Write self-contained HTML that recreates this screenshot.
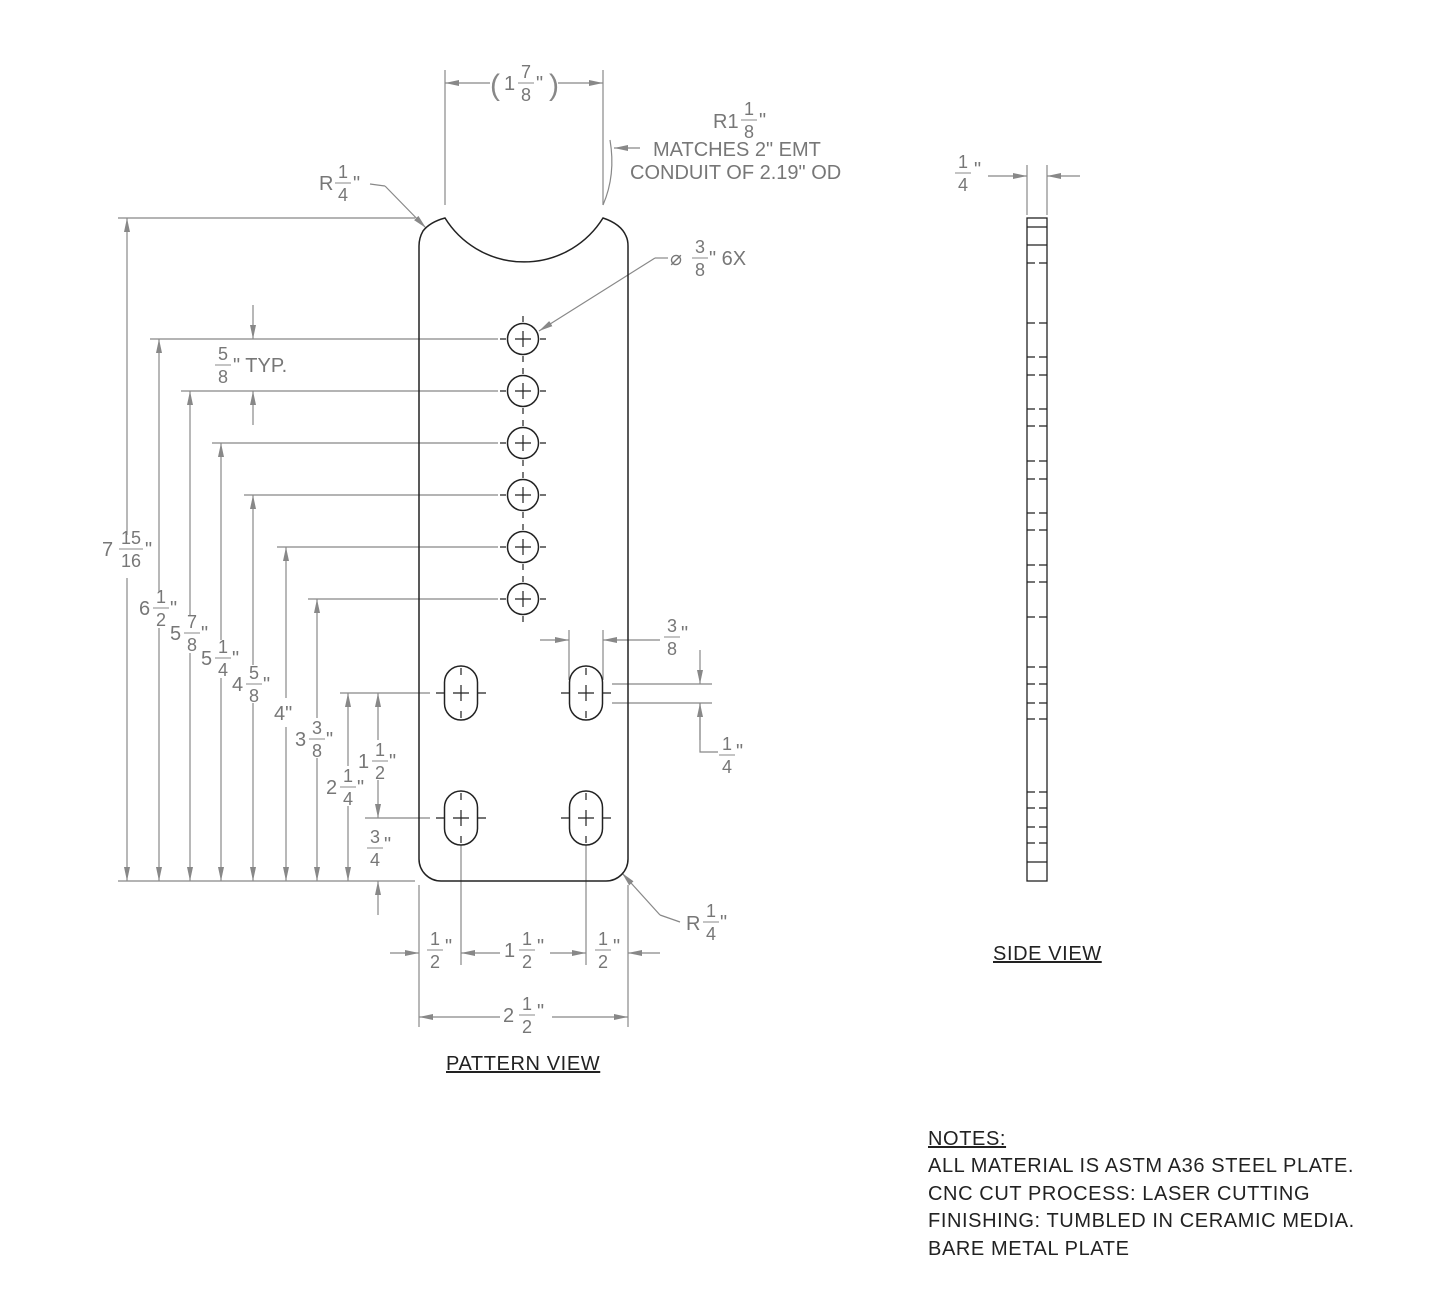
<!DOCTYPE html>
<html><head><meta charset="utf-8"><style>
html,body{margin:0;padding:0;background:#fff}
svg{display:block}
text{font-family:"Liberation Sans",Arial,sans-serif;fill:#777;font-size:20px}
.f{font-size:18px;text-anchor:middle}
.n{fill:#222;font-size:20px;letter-spacing:0.6px}
</style></head><body>
<svg width="1445" height="1308" viewBox="0 0 1445 1308" xmlns="http://www.w3.org/2000/svg">
<defs>
<marker id="a" markerWidth="14" markerHeight="8" refX="14" refY="4" orient="auto" markerUnits="userSpaceOnUse">
<path d="M0,1 L14,4 L0,7 Z" fill="#888"/></marker>
</defs>
<g stroke="#888" stroke-width="1.2" fill="none">
<line x1="445" y1="70" x2="445" y2="205"/><line x1="603" y1="70" x2="603" y2="205"/>
<line x1="490" y1="83" x2="445" y2="83" marker-end="url(#a)"/>
<line x1="558" y1="83" x2="603" y2="83" marker-end="url(#a)"/>
<path d="M603,205 Q616,175 610,140"/>
<line x1="640" y1="148" x2="614" y2="148" marker-end="url(#a)"/>
<path d="M370,184 L385,186" /><line x1="385" y1="186" x2="426" y2="228" marker-end="url(#a)"/>
<line x1="668" y1="258" x2="655" y2="258"/><line x1="655" y1="258" x2="539" y2="331" marker-end="url(#a)"/>
<line x1="118" y1="218" x2="415" y2="218"/>
<line x1="118" y1="881" x2="415" y2="881"/>
<line x1="150" y1="339" x2="498" y2="339"/>
<line x1="181" y1="391" x2="498" y2="391"/>
<line x1="212" y1="443" x2="498" y2="443"/>
<line x1="244" y1="495" x2="498" y2="495"/>
<line x1="277" y1="547" x2="498" y2="547"/>
<line x1="308" y1="599" x2="498" y2="599"/>
<line x1="340" y1="693" x2="430" y2="693"/>
<line x1="365" y1="818" x2="430" y2="818"/>
<line x1="127" y1="535" x2="127" y2="218" marker-end="url(#a)"/><line x1="127" y1="578" x2="127" y2="881" marker-end="url(#a)"/>
<line x1="159" y1="592" x2="159" y2="339" marker-end="url(#a)"/><line x1="159" y1="628" x2="159" y2="881" marker-end="url(#a)"/>
<line x1="190" y1="615" x2="190" y2="391" marker-end="url(#a)"/><line x1="190" y1="653" x2="190" y2="881" marker-end="url(#a)"/>
<line x1="221" y1="640" x2="221" y2="443" marker-end="url(#a)"/><line x1="221" y1="678" x2="221" y2="881" marker-end="url(#a)"/>
<line x1="253" y1="665" x2="253" y2="495" marker-end="url(#a)"/><line x1="253" y1="703" x2="253" y2="881" marker-end="url(#a)"/>
<line x1="286" y1="698" x2="286" y2="547" marker-end="url(#a)"/><line x1="286" y1="727" x2="286" y2="881" marker-end="url(#a)"/>
<line x1="317" y1="718" x2="317" y2="599" marker-end="url(#a)"/><line x1="317" y1="758" x2="317" y2="881" marker-end="url(#a)"/>
<line x1="348" y1="766" x2="348" y2="693" marker-end="url(#a)"/><line x1="348" y1="806" x2="348" y2="881" marker-end="url(#a)"/>
<line x1="378" y1="740" x2="378" y2="693" marker-end="url(#a)"/><line x1="378" y1="780" x2="378" y2="818" marker-end="url(#a)"/>
<line x1="378" y1="915" x2="378" y2="881" marker-end="url(#a)"/>
<line x1="253" y1="305" x2="253" y2="339" marker-end="url(#a)"/>
<line x1="253" y1="425" x2="253" y2="391" marker-end="url(#a)"/>
<line x1="569" y1="630" x2="569" y2="680"/><line x1="603" y1="630" x2="603" y2="680"/>
<line x1="540" y1="640" x2="569" y2="640" marker-end="url(#a)"/>
<line x1="660" y1="640" x2="603" y2="640" marker-end="url(#a)"/>
<line x1="612" y1="684" x2="712" y2="684"/><line x1="612" y1="703" x2="712" y2="703"/>
<line x1="700" y1="650" x2="700" y2="684" marker-end="url(#a)"/>
<path d="M718,752 L700,752 L700,703"/><line x1="700" y1="740" x2="700" y2="703" marker-end="url(#a)"/>
<path d="M680,922 L660,915"/><line x1="660" y1="915" x2="622" y2="873" marker-end="url(#a)"/>
<line x1="419" y1="885" x2="419" y2="1027"/><line x1="628" y1="885" x2="628" y2="1027"/>
<line x1="461" y1="845" x2="461" y2="965"/><line x1="586" y1="845" x2="586" y2="965"/>
<line x1="390" y1="953" x2="419" y2="953" marker-end="url(#a)"/>
<line x1="500" y1="953" x2="461" y2="953" marker-end="url(#a)"/>
<line x1="550" y1="953" x2="586" y2="953" marker-end="url(#a)"/>
<line x1="660" y1="953" x2="628" y2="953" marker-end="url(#a)"/>
<line x1="500" y1="1017" x2="419" y2="1017" marker-end="url(#a)"/>
<line x1="552" y1="1017" x2="628" y2="1017" marker-end="url(#a)"/>
<line x1="1027" y1="165" x2="1027" y2="215"/><line x1="1047" y1="165" x2="1047" y2="215"/>
<line x1="988" y1="176" x2="1027" y2="176" marker-end="url(#a)"/>
<line x1="1080" y1="176" x2="1047" y2="176" marker-end="url(#a)"/>
</g>
<g stroke="#222" stroke-width="1.5" fill="none">
<path d="M445,218 A93,93 0 0 0 603,218 Q621,224 626,236 Q628,240 628,246 L628,859 A22,22 0 0 1 606,881 L441,881 A22,22 0 0 1 419,859 L419,246 Q419,238 423,231 Q430,222 445,218 Z"/>
<circle cx="523" cy="339" r="15.5"/><circle cx="523" cy="391" r="15.5"/><circle cx="523" cy="443" r="15.5"/>
<circle cx="523" cy="495" r="15.5"/><circle cx="523" cy="547" r="15.5"/><circle cx="523" cy="599" r="15.5"/>
<rect x="444.5" y="666" width="33" height="54" rx="16.5"/>
<rect x="569.5" y="666" width="33" height="54" rx="16.5"/>
<rect x="444.5" y="791" width="33" height="54" rx="16.5"/>
<rect x="569.5" y="791" width="33" height="54" rx="16.5"/>
</g>
<g stroke="#222" stroke-width="1.2">
<path d="M515,339h16M523,331v16M500,339h6M540,339h6M523,316v6M523,356v6"/>
<path d="M515,391h16M523,383v16M500,391h6M540,391h6M523,368v6M523,408v6"/>
<path d="M515,443h16M523,435v16M500,443h6M540,443h6M523,420v6M523,460v6"/>
<path d="M515,495h16M523,487v16M500,495h6M540,495h6M523,472v6M523,512v6"/>
<path d="M515,547h16M523,539v16M500,547h6M540,547h6M523,524v6M523,564v6"/>
<path d="M515,599h16M523,591v16M500,599h6M540,599h6M523,576v6M523,616v6"/>
<path d="M453,693h16M461,685v16M436,693h8M478,693h8M461,668v7M461,711v7"/>
<path d="M578,693h16M586,685v16M561,693h8M603,693h8M586,668v7M586,711v7"/>
<path d="M453,818h16M461,810v16M436,818h8M478,818h8M461,793v7M461,836v7"/>
<path d="M578,818h16M586,810v16M561,818h8M603,818h8M586,793v7M586,836v7"/>
</g>
<g stroke="#222" stroke-width="1.3" fill="none">
<rect x="1027" y="218" width="20" height="663"/>
<path d="M1027,227h20M1027,245h20"/>
<g stroke-dasharray="8,4">
<path d="M1027,263h20M1027,323h20M1027,357h20M1027,375h20M1027,409h20M1027,426h20M1027,461h20M1027,479h20M1027,513h20M1027,530h20M1027,565h20M1027,582h20M1027,617h20M1027,667h20M1027,684h20M1027,703h20M1027,719h20M1027,792h20M1027,808h20M1027,827h20M1027,843h20"/>
</g>
<path d="M1027,862h20"/>
</g>
<g>
<text x="490" y="95" style="font-size:30px;fill:#888">(</text><text x="549" y="95" style="font-size:30px;fill:#888">)</text>
<text x="504" y="90">1</text><text class="f" x="526" y="78">7</text><text class="f" x="526" y="101">8</text><line x1="518" y1="83" x2="534" y2="83" stroke="#888"/><text x="536" y="90">"</text>

<text x="713" y="128">R1</text><text class="f" x="749" y="115">1</text><text class="f" x="749" y="138">8</text><line x1="741" y1="120" x2="757" y2="120" stroke="#888"/><text x="759" y="127">"</text>
<text x="653" y="156">MATCHES 2" EMT</text>
<text x="630" y="179">CONDUIT OF 2.19" OD</text>

<text x="319" y="190">R</text><text class="f" x="343" y="178">1</text><text class="f" x="343" y="201">4</text><line x1="335" y1="183" x2="351" y2="183" stroke="#888"/><text x="353" y="190">"</text>

<text x="670" y="265">⌀</text><text class="f" x="700" y="253">3</text><text class="f" x="700" y="276">8</text><line x1="692" y1="258" x2="708" y2="258" stroke="#888"/><text x="709" y="265">" 6X</text>

<text class="f" x="223" y="360">5</text><text class="f" x="223" y="383">8</text><line x1="215" y1="365" x2="231" y2="365" stroke="#888"/><text x="233" y="372">" TYP.</text>

<text x="102" y="556">7</text><text class="f" x="131" y="544">15</text><text class="f" x="131" y="567">16</text><line x1="119" y1="549" x2="143" y2="549" stroke="#888"/><text x="145" y="556">"</text>

<text x="139" y="615">6</text><text class="f" x="161" y="603">1</text><text class="f" x="161" y="626">2</text><line x1="153" y1="608" x2="169" y2="608" stroke="#888"/><text x="170" y="615">"</text>
<text x="170" y="640">5</text><text class="f" x="192" y="628">7</text><text class="f" x="192" y="651">8</text><line x1="184" y1="633" x2="200" y2="633" stroke="#888"/><text x="201" y="640">"</text>
<text x="201" y="665">5</text><text class="f" x="223" y="653">1</text><text class="f" x="223" y="676">4</text><line x1="215" y1="658" x2="231" y2="658" stroke="#888"/><text x="232" y="665">"</text>
<text x="232" y="691">4</text><text class="f" x="254" y="679">5</text><text class="f" x="254" y="702">8</text><line x1="246" y1="684" x2="262" y2="684" stroke="#888"/><text x="263" y="691">"</text>
<text x="274" y="720">4"</text>
<text x="295" y="746">3</text><text class="f" x="317" y="734">3</text><text class="f" x="317" y="757">8</text><line x1="309" y1="739" x2="325" y2="739" stroke="#888"/><text x="326" y="746">"</text>
<text x="358" y="768">1</text><text class="f" x="380" y="756">1</text><text class="f" x="380" y="779">2</text><line x1="372" y1="761" x2="388" y2="761" stroke="#888"/><text x="389" y="768">"</text>
<text x="326" y="794">2</text><text class="f" x="348" y="782">1</text><text class="f" x="348" y="805">4</text><line x1="340" y1="787" x2="356" y2="787" stroke="#888"/><text x="357" y="794">"</text>
<text class="f" x="375" y="843">3</text><text class="f" x="375" y="866">4</text><line x1="367" y1="848" x2="383" y2="848" stroke="#888"/><text x="384" y="851">"</text>

<text class="f" x="672" y="632">3</text><text class="f" x="672" y="655">8</text><line x1="664" y1="637" x2="680" y2="637" stroke="#888"/><text x="681" y="640">"</text>
<text class="f" x="727" y="750">1</text><text class="f" x="727" y="773">4</text><line x1="719" y1="755" x2="735" y2="755" stroke="#888"/><text x="736" y="758">"</text>

<text x="686" y="930">R</text><text class="f" x="711" y="917">1</text><text class="f" x="711" y="940">4</text><line x1="703" y1="922" x2="719" y2="922" stroke="#888"/><text x="720" y="929">"</text>

<text class="f" x="435" y="945">1</text><text class="f" x="435" y="968">2</text><line x1="427" y1="950" x2="443" y2="950" stroke="#888"/><text x="445" y="953">"</text>
<text x="504" y="957">1</text><text class="f" x="527" y="945">1</text><text class="f" x="527" y="968">2</text><line x1="519" y1="950" x2="535" y2="950" stroke="#888"/><text x="537" y="953">"</text>
<text class="f" x="603" y="945">1</text><text class="f" x="603" y="968">2</text><line x1="595" y1="950" x2="611" y2="950" stroke="#888"/><text x="613" y="953">"</text>
<text x="503" y="1022">2</text><text class="f" x="527" y="1010">1</text><text class="f" x="527" y="1033">2</text><line x1="519" y1="1015" x2="535" y2="1015" stroke="#888"/><text x="537" y="1018">"</text>

<text class="f" x="963" y="168">1</text><text class="f" x="963" y="191">4</text><line x1="955" y1="173" x2="971" y2="173" stroke="#888"/><text x="974" y="176">"</text>

<text class="n" x="446" y="1070" style="text-decoration:underline">PATTERN VIEW</text>
<text class="n" x="993" y="960" style="text-decoration:underline">SIDE VIEW</text>
<text class="n" x="928" y="1145" style="text-decoration:underline">NOTES:</text>
<text class="n" x="928" y="1172">ALL MATERIAL IS ASTM A36 STEEL PLATE.</text>
<text class="n" x="928" y="1200">CNC CUT PROCESS: LASER CUTTING</text>
<text class="n" x="928" y="1227">FINISHING: TUMBLED IN CERAMIC MEDIA.</text>
<text class="n" x="928" y="1255">BARE METAL PLATE</text>
</g>
</svg>
</body></html>
